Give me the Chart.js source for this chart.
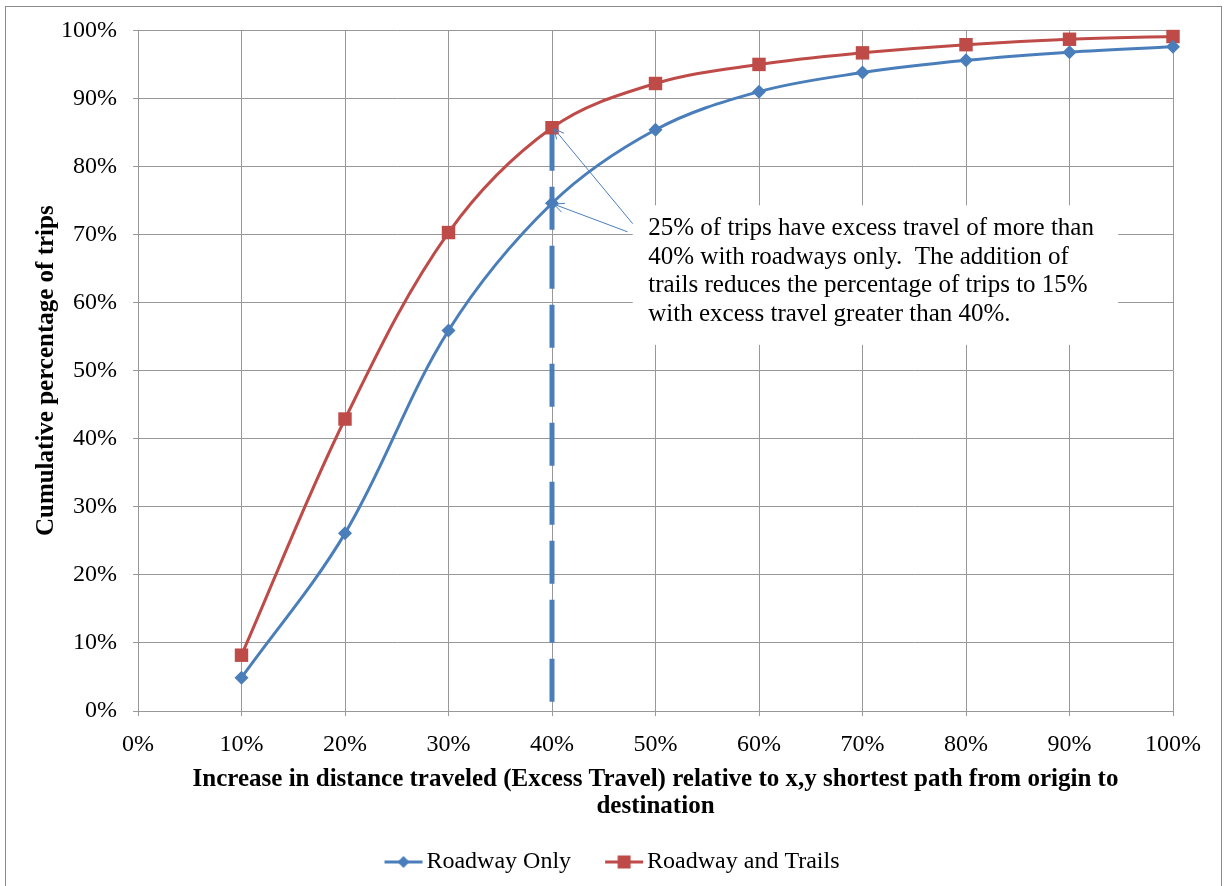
<!DOCTYPE html>
<html>
<head>
<meta charset="utf-8">
<script src="https://cdn.jsdelivr.net/npm/chart.js@4.4.0/dist/chart.umd.min.js"></script>
<style>
  html, body { margin: 0; padding: 0; background: #fff; }
</style>
</head>
<body>
<canvas id="tripsChart" width="1225" height="886"></canvas>
<script>
// excess travel (% over x,y shortest path) and cumulative share of trips
const excessTravel = [10, 20, 30, 40, 50, 60, 70, 80, 90, 100];
const roadwayOnly = [4.9, 26.1, 55.9, 74.6, 85.4, 91.0, 93.8, 95.6, 96.8, 97.6];
const roadwayTrails = [8.2, 42.9, 70.3, 85.7, 92.2, 95.0, 96.7, 97.9, 98.7, 99.1];
const seriesNames = ['Roadway Only', 'Roadway and Trails'];
const cutoff = 40;

const xTitle = ['Increase in distance traveled (Excess Travel) relative to x,y shortest path from origin to', 'destination'];
const yTitle = 'Cumulative percentage of trips';
const noteLines = [
    '25% of trips have excess travel of more than',
    '40% with roadways only.  The addition of',
    'trails reduces the percentage of trips to 15%',
    'with excess travel greater than 40%.'
];

const BLUE = '#4a7ebb';
const RED = '#be4b48';
const GRID = '#989898';
const SERIF = "'Liberation Serif', 'Times New Roman', serif";

const pts = ys => excessTravel.map((x, i) => ({ x: x, y: ys[i] }));
const cutoffIdx = excessTravel.indexOf(cutoff);

// legend glyph: short line with the marker in the middle
function legendGlyph(color, shape) {
    const c = document.createElement('canvas');
    c.width = 70;
    c.height = 16;
    const g = c.getContext('2d');
    g.strokeStyle = color;
    g.lineWidth = 3;
    g.beginPath();
    g.moveTo(31, 8);
    g.lineTo(69, 8);
    g.stroke();
    g.fillStyle = color;
    g.beginPath();
    if (shape === 'diamond') {
        g.moveTo(50, 2); g.lineTo(56, 8); g.lineTo(50, 14); g.lineTo(44, 8);
    } else {
        g.rect(43.5, 1.5, 13, 13);
    }
    g.fill();
    return c;
}
const glyphs = [legendGlyph(BLUE, 'diamond'), legendGlyph(RED, 'square')];

// white note box, its text and the two arrows pointing at the 40% points
const notePlugin = {
    id: 'note',
    beforeDatasetsDraw(chart) {
        const { ctx, scales: { x, y } } = chart;
        const l = x.getPixelForValue(47.8), r = x.getPixelForValue(94.7);
        const t = y.getPixelForValue(74.3), b = y.getPixelForValue(53.8);
        ctx.save();
        ctx.fillStyle = '#fff';
        ctx.fillRect(l, t, r - l, b - t);
        ctx.restore();
    },
    afterDatasetsDraw(chart) {
        const { ctx, scales: { x, y } } = chart;
        ctx.save();
        ctx.fillStyle = '#000';
        ctx.font = '25px ' + SERIF;
        ctx.textBaseline = 'middle';
        ctx.textAlign = 'left';
        const tx = x.getPixelForValue(49.3);
        const ty = y.getPixelForValue(70.9);
        noteLines.forEach((line, i) => ctx.fillText(line, tx, ty + i * 28.5));

        const arrows = [
            { from: [47.8, 71.6], to: [cutoff, roadwayTrails[cutoffIdx]] },
            { from: [47.3, 70.4], to: [cutoff, roadwayOnly[cutoffIdx]] }
        ];
        ctx.strokeStyle = BLUE;
        ctx.lineWidth = 1;
        arrows.forEach(a => {
            const x0 = x.getPixelForValue(a.from[0]), y0 = y.getPixelForValue(a.from[1]);
            const x1 = x.getPixelForValue(a.to[0]) + 2, y1 = y.getPixelForValue(a.to[1]) + 1;
            const ang = Math.atan2(y1 - y0, x1 - x0);
            ctx.beginPath();
            ctx.moveTo(x0, y0);
            ctx.lineTo(x1, y1);
            [0.45, -0.45].forEach(d => {
                ctx.moveTo(x1, y1);
                ctx.lineTo(x1 - 11 * Math.cos(ang + d), y1 - 11 * Math.sin(ang + d));
            });
            ctx.stroke();
        });
        ctx.restore();
    },
    afterDraw(chart) {
        const ctx = chart.ctx;
        ctx.save();
        ctx.strokeStyle = '#8a8a8a';
        ctx.lineWidth = 1;
        ctx.strokeRect(5.5, 6.5, 1216, 900);
        ctx.restore();
    }
};

const tickFont = { family: SERIF, size: 24 };
const titleFont = { family: SERIF, size: 25, weight: 'bold', lineHeight: '27px' };

new Chart(document.getElementById('tripsChart'), {
    type: 'line',
    data: {
        datasets: [
            {
                label: seriesNames[0],
                data: pts(roadwayOnly),
                borderColor: BLUE,
                backgroundColor: BLUE,
                borderWidth: 3,
                pointStyle: 'rectRot',
                pointRadius: 7,
                pointBorderWidth: 0,
                tension: 0.35,
                clip: false
            },
            {
                label: seriesNames[1],
                data: pts(roadwayTrails),
                borderColor: RED,
                backgroundColor: RED,
                borderWidth: 3,
                pointStyle: 'rect',
                pointRadius: 9.5,
                pointBorderWidth: 0,
                tension: 0.35,
                clip: false
            },
            {
                // 40% cut-off marker, drawn top-down so the dashes start at the point
                label: 'cutoff',
                data: [{ x: cutoff, y: roadwayTrails[cutoffIdx] }, { x: cutoff, y: 0 }],
                borderColor: BLUE,
                borderWidth: 5,
                borderDash: [43, 16],
                pointRadius: 0,
                tension: 0
            }
        ]
    },
    options: {
        responsive: false,
        animation: false,
        layout: { padding: { left: 29, right: 52, top: 29, bottom: 2 } },
        plugins: {
            legend: {
                position: 'bottom',
                labels: {
                    color: '#000',
                    font: { family: SERIF, size: 24 },
                    usePointStyle: true,
                    pointStyleWidth: 52,
                    padding: 12,
                    filter: item => item.datasetIndex < 2,
                    generateLabels: chart => Chart.defaults.plugins.legend.labels.generateLabels(chart)
                        .map(item => Object.assign(item, { pointStyle: glyphs[item.datasetIndex] }))
                }
            },
            tooltip: { enabled: false }
        },
        scales: {
            x: {
                type: 'linear',
                min: 0,
                max: 100,
                afterFit: s => { s.height = 127; },
                ticks: {
                    stepSize: 10,
                    color: '#000',
                    font: tickFont,
                    padding: 14,
                    maxRotation: 0,
                    callback: v => v + '%'
                },
                grid: { color: GRID, tickLength: 5 },
                border: { color: GRID },
                title: {
                    display: true,
                    text: xTitle,
                    color: '#000',
                    font: titleFont,
                    padding: { top: 0, bottom: 17.5 }
                }
            },
            y: {
                min: 0,
                max: 100,
                afterFit: s => { s.width = 109; },
                ticks: {
                    stepSize: 10,
                    color: '#000',
                    font: tickFont,
                    padding: 16,
                    callback: v => v + '%'
                },
                grid: { color: GRID, tickLength: 5 },
                border: { color: GRID },
                title: {
                    display: true,
                    text: yTitle,
                    color: '#000',
                    font: titleFont,
                    padding: { top: 4, bottom: 0 }
                }
            }
        }
    },
    plugins: [notePlugin]
});
</script>
</body>
</html>
